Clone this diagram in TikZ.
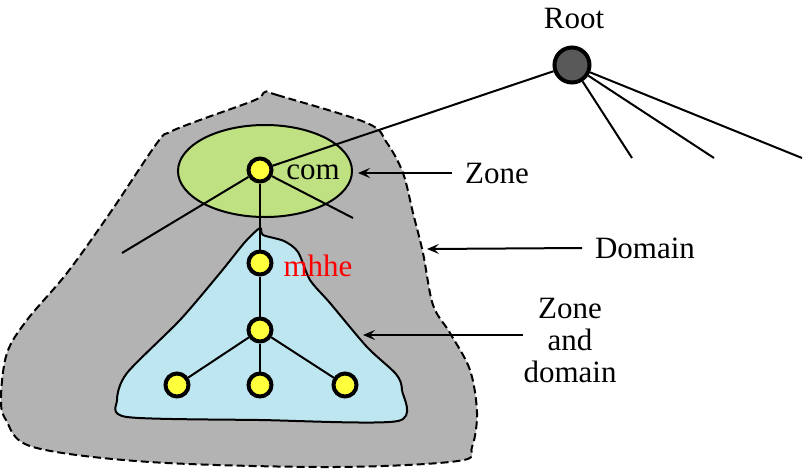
\documentclass[tikz,border=0pt]{standalone}
\usepackage{fontspec}
\setmainfont{Liberation Serif}
\usetikzlibrary{arrows.meta}

\definecolor{domgray}{HTML}{B3B3B3}
\definecolor{zonegreen}{HTML}{C0E182}
\definecolor{zdblue}{HTML}{BEE6F0}
\definecolor{rootgray}{HTML}{595959}
\definecolor{hostyellow}{HTML}{FFFF3C}

\begin{document}
\begin{tikzpicture}[x=0.5pt, y=-0.5pt, line width=1pt,
		host/.style={circle, draw, line width=2pt, fill=hostyellow, inner sep=0pt, minimum size=11.5pt},
		lbl/.style={font=\fontsize{15.5}{16}\selectfont, inner sep=0pt},
		tip/.style={-{Stealth[length=6pt, width=5pt, inset=2.5pt]}}]
			\useasboundingbox (0,0) rectangle (803,472);
			
			\draw[dashed, dash pattern=on 4pt off 2pt, fill=domgray] plot[smooth cycle, tension=0.55] coordinates {
				(265,92) (277,95) (367,123) (387,143) (403,173) (413,213) (423,253) (433,305)
				(450,333) (470,370) (477,413) (472,447) (458,461) (333,467) (150,462) (33,447)
				(6,420) (1,397) (7,353) (27,320) (67,273) (110,213) (157,143) (170,132) (200,120) (255,100)};
			
			\draw[fill=zonegreen] (265,171) ellipse [x radius=87, y radius=46];
			
			\draw[fill=zdblue] plot[smooth cycle, tension=0.45] coordinates {
				(260,228) (245,242) (220,273) (180,320) (127,373) (117,400) (127,417) (260,420)
				(398,421) (402,390) (396,374) (367,347) (330,303) (310,280) (298,252) (284,241) (263,235)};
			
			\node[host, fill=rootgray, minimum size=17.5pt] (root) at (572,65){};
			\node[lbl] (rootlbl) at (574,18){Root};
			
			\node[host] (com) at (260,170){};
			\node[host] (mhhe) at (260,263){};
			\node[host] (mid) at (260,330){};
			\node[host] (leafa) at (177,385){};
			\node[host] (leafb) at (260,385){};
			\node[host] (leafc) at (345,385){};
			
			\node[lbl] (comlbl) at (313,172){com};
			\node[lbl, text=red] (mhhelbl) at (318,266){mhhe};
			
			\coordinate (comw) at (122,253);
			\coordinate (come) at (353,218);
			\draw (com) -- (root);
			\draw (com) -- (comw);
			\draw (com) -- (come);
			\draw (com) -- (mhhe) -- (mid);
			\draw (mid) -- (leafa);
			\draw (mid) -- (leafb);
			\draw (mid) -- (leafc);
			
			\foreach \x in {632,714,802}{
				\coordinate (br\x) at (\x,158);
				\draw (root) -- (br\x);
			}
			
			\node[lbl] (zonelbl) at (497,173){Zone};
			\node[lbl] (domainlbl) at (645,248){Domain};
			\node[lbl, align=center] (zdlbl) at (570,340){Zone\\and\\domain};
			
			\coordinate (zonetip) at (358,173);
			\coordinate (domaintip) at (427,249);
			\coordinate (zdtip) at (363,335);
			\draw[tip] ([xshift=-6pt]zonelbl.west) -- (zonetip);
			\draw[tip] ([xshift=-6pt]domainlbl.west) -- (domaintip);
			\draw[tip] ([yshift=2.5pt]zdlbl.west) -- (zdtip);
		\end{tikzpicture}
\end{document}
